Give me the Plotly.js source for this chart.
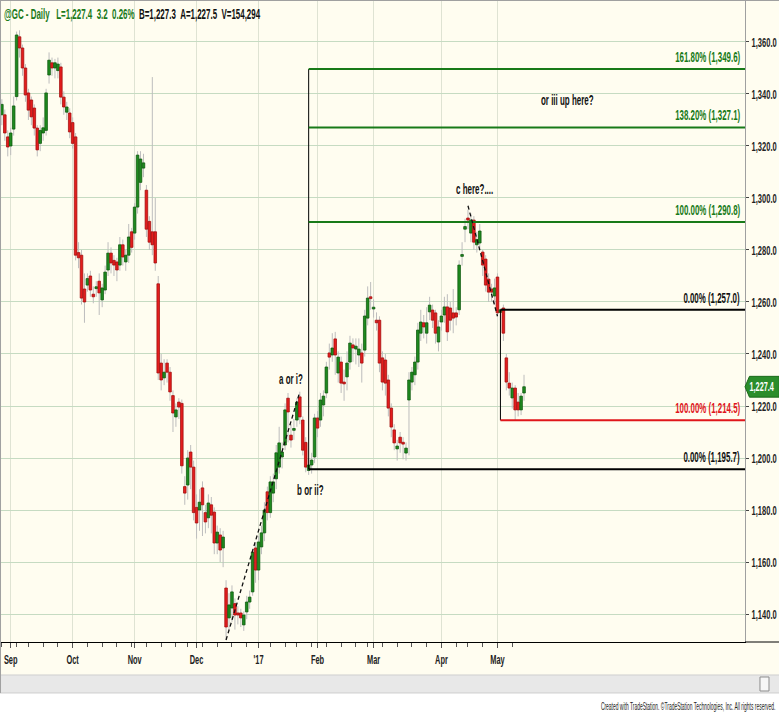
<!DOCTYPE html>
<html>
<head>
<meta charset="utf-8">
<script src="https://cdn.plot.ly/plotly-3.0.1.min.js"></script>
<style>
html,body{margin:0;padding:0;background:#fffdf0;}
#chart{width:779px;height:713px;}
</style>
</head>
<body>
<div id="chart"></div>
<script>
// ---------------- data ----------------
const symbol = '@GC';
const interval = 'Daily';
const lastPrice = 1227.4, netChange = 3.2, pctChange = 0.26;
const bidPrice = 1227.3, askPrice = 1227.5, volume = 154294;

const firstDay = '2016-08-29';
const lastDay = '2017-05-12';
const holidays = ['2016-09-05','2016-11-24','2016-12-26','2017-01-02','2017-01-16','2017-02-20','2017-04-14'];
const monthLabels = ['Sep','Oct','Nov','Dec',"'17",'Feb','Mar','Apr','May'];

const open = [
1332,1332,1323.5,1320,1326.5,1339,1362,1357.7,1350,1340.4,1337.7,1334.6,1326.9,1321,1325,1326,1347.3,1352,1350,1349,1350.4,1338.8,1333,1332.7,
1329,1323.5,1279,1278,1265,1266.5,1270,1263,1265.2,1268,1260.8,1264.6,1272.3,1278.8,1276,1275.4,1274.2,1282,1275.4,1278,1287,
1286.5,1296.5,1306,1311.5,1303,1291,1287,1287,1267,1236.5,1230.8,1236.5,1233,1224,1215.8,1221.5,1221,1189,1189.6,1202.3,1196.5,
1181,1180,1188.5,1179,1177,1182,1179.2,1167.3,1170.4,1165.4,1150,1138.5,1142.3,1144,1140.4,1140.4,1135.8,1140.8,1144.6,1148.5,1165.4,
1156.9,1165.8,1171.2,1187,1179,1186.5,1192,1196.5,1200.4,1205,1223,1208.8,1210.8,1214.6,1223.5,1214.6,1206,1195.2,1197.3,1200.4,
1215.4,1214.6,1220.4,1225,1240.4,1239.6,1245.8,1232.7,1236.9,1229.2,1231.2,1236.9,1243.5,1241.9,1239.6,1240.4,1241.5,1253.8,1262,
1257.3,1253,1253,1238.5,1237.7,1230,1219.2,1210.8,1203.5,1208,1206,1201.9,1222.3,1229.2,1232,1236.9,1248,1252,1248,1256.2,1256.9,1255.8,1244.6,
1252.3,1255,1258.1,1257.7,1255.8,1255.8,1257,1277.7,1288,1292.3,1286.5,1291.5,1282,1282.7,1279.2,1276.5,1268.8,1265,1262.3,
1269.6,1256,1257.7,1238.5,1228.8,1223.1,1226.9,1221.5,1218.5,1225
];
const high = [
1338,1334,1326,1327,1339,1364,1364.5,1359,1351.5,1342,1339,1336,1328,1328,1331,1342,1356,1354,1353.5,1354,1352,1341,1337,1334.5,
1331,1325,1283,1280,1271,1271,1272,1266,1268,1271,1267,1274,1283,1281,1278,1277,1285,1284,1280,1290,1288.5,
1298,1318,1318,1317,1305,1293,1346.5,1300,1270,1240,1238,1238,1235,1226,1221,1223,1222.5,1193,1203,1205,1199,
1186,1188,1191,1182,1186,1185,1181,1174,1173,1172,1153,1148,1151,1146,1143,1142,1141,1147,1149,1165,1167,
1170,1174,1183,1189,1193,1194,1205,1212,1206,1221,1225,1213,1215,1223,1225.5,1216,1208,1200,1202,1217,
1218,1225,1226,1237,1244,1248,1248.5,1241,1239,1234,1241,1247,1246,1246,1246,1244,1257,1266,1267.7,
1261,1256,1254.5,1241,1240,1232,1221,1213,1207,1210,1208,1206,1233,1235,1239,1252,1257,1255,1258,1262,1259,1257,1253,
1257,1262,1263,1260,1265,1258,1276,1283,1292,1295.5,1294,1293,1287,1290,1280,1278,1271,1267,1269,
1271,1257,1259,1240,1233,1229,1228,1225,1225,1232
];
const low = [
1328,1322,1316,1316.5,1324,1337.5,1354,1347,1337,1330,1328,1324,1316,1318,1322,1324,1344,1347,1346,1346,1336,1332,1330,1323,
1319,1276,1273,1259,1252,1264,1262,1259.5,1262,1255,1258,1263,1270,1271,1270,1268,1272,1274,1272,1275,1279,
1284,1294,1303,1308,1285,1280,1278,1272,1230,1226,1228,1229,1222,1210,1212,1215,1194,1182,1184,1188,1176,
1169,1172,1170,1171,1173,1171,1163,1163,1160,1158,1130,1134,1137,1134,1136,1135,1133.5,1138,1142,1147,1152,
1153,1163,1168,1176,1177,1183,1188,1194,1196,1203,1206,1204,1207,1212,1213,1201,1194.5,1193.5,1194,1198,
1208,1212,1216,1223,1234,1237,1232,1229,1225,1222,1226,1234,1237,1236,1235,1229,1239,1251,1257,
1254,1249,1233,1226,1224,1216,1208,1203,1199,1202,1199.5,1199,1201,1226,1228,1234,1245,1246,1244,1253,1250,1244,1241,
1249,1252,1245,1249,1248,1251,1255,1274,1283,1288,1283,1280,1279,1280,1270,1264,1260,1260,1259,
1254.5,1253,1245,1226,1224,1219,1214.5,1216,1216.5,1222
];
const close = [
1336,1325,1319.6,1325,1335.4,1362.7,1357.7,1350,1339.6,1333.8,1331.2,1326.9,1318.5,1326,1327,1340.4,1353,1350,1352,1351.5,1338.8,1335,1335,1325.4,
1321,1278,1277,1261.5,1260,1269,1264.6,1262,1265.8,1263.5,1265.4,1271.5,1278.8,1275,1274.2,1272.3,1282,1277.3,1278,1285,1281,
1296.5,1316.5,1315,1313.5,1288,1283,1282,1275,1232.7,1230,1233,1233,1225.4,1217.3,1218.5,1219.6,1197,1186.5,1200,1196.5,1179,
1175,1183,1182,1175.4,1182.7,1178,1167.3,1171.5,1164.6,1169.6,1135,1143.5,1148.5,1139.6,1139.6,1138.5,1139.6,1144.6,1146.5,1163.8,1156.9,
1167.7,1171.2,1180,1179,1190.8,1190.8,1202,1205.8,1202.3,1218.5,1217.7,1206.9,1211.2,1221.5,1215.8,1203,1196.5,1197.3,1199.2,1215.4,
1211.5,1222.3,1223.8,1235,1238.8,1242.3,1239.6,1238.8,1228.8,1228.5,1236.5,1244.2,1242.3,1243,1241.9,1236.5,1254.6,1261.5,1261.3,
1258,1252,1236.5,1229.2,1228.8,1219.2,1211.9,1205.8,1204.6,1205.8,1205.4,1203.8,1230,1233,1236.9,1249.2,1252.3,1250.4,1252,1258.8,1253,1248,1250.4,
1254.6,1258.1,1248.5,1253,1253.8,1254.2,1274.2,1278.1,1289,1291.5,1291.5,1283,1284,1287.3,1274.2,1266.5,1263.8,1263.8,1265.4,
1255.8,1257,1248,1229.2,1226.9,1226.9,1218.5,1218.5,1223.8,1227.4
];

// Fibonacci tool 1 (extension) and tool 2
const fibRatios = [0, 1, 1.382, 1.618];
const fibLow = 1195.7, fibHigh = 1290.8, fibStart = '2017-01-27';
const fib2High = 1257.0, fib2Low = 1214.5, fib2Start = '2017-05-02';
// hand-drawn trend lines (start/end dates)
const trendA = ['2016-12-15', '2017-01-24'];
const trendC = ['2017-04-17', '2017-05-01'];
const noteTexts = ['or iii up here?', 'c here?....', 'a or i?', 'b or ii?'];
const footerText = 'Created with TradeStation. \u00a9TradeStation Technologies, Inc. All rights reserved.';

// ---------------- helpers ----------------
function tradingDays(a, b, hol) {
  const out = [];
  const d = new Date(a + 'T00:00:00Z');
  const end = new Date(b + 'T00:00:00Z');
  while (d <= end) {
    const w = d.getUTCDay();
    const s = d.toISOString().slice(0, 10);
    if (w !== 0 && w !== 6 && hol.indexOf(s) < 0) out.push(s);
    d.setUTCDate(d.getUTCDate() + 1);
  }
  return out;
}
const fmt = v => v.toLocaleString('en-US', {minimumFractionDigits: 1, maximumFractionDigits: 1});

const dates = tradingDays(firstDay, lastDay, holidays).slice(0, open.length);
const n = dates.length;

const UP = '#1f8a1f', UPE = '#0b560b', DN = '#e31d1d', DNE = '#a00c0c';
const bodyBase = [], bodyLen = [], bodyFill = [], bodyEdge = [];
const wx = [], wy = [];
for (let i = 0; i < n; i++) {
  const lo = Math.min(open[i], close[i]), hi = Math.max(open[i], close[i]);
  const len = Math.max(hi - lo, 0.7);
  bodyBase.push(lo - (len - (hi - lo)) / 2);
  bodyLen.push(len);
  const up = close[i] >= open[i];
  bodyFill.push(up ? UP : DN);
  bodyEdge.push(up ? UPE : DNE);
  wx.push(dates[i], dates[i], dates[i]);
  wy.push(low[i], high[i], null);
}

const monthStarts = [], weekStarts = [];
for (let i = 0; i < n; i++) {
  const d = new Date(dates[i] + 'T00:00:00Z');
  if (i > 0) {
    const p = new Date(dates[i - 1] + 'T00:00:00Z');
    if (d.getUTCMonth() !== p.getUTCMonth()) monthStarts.push(dates[i]);
    if (d.getUTCDay() <= p.getUTCDay()) weekStarts.push(dates[i]);
  } else {
    weekStarts.push(dates[i]);
  }
}

const xr = [-0.63, 251.9];
const yr = [1129.23, 1376.15];
const FONT = 'Liberation Sans, Arial, sans-serif';

// ---------------- traces ----------------
const wicks = {
  type: 'scatter', mode: 'lines', x: wx, y: wy, xaxis: 'x', yaxis: 'y',
  line: {color: '#bdbdbd', width: 1}, hoverinfo: 'skip', showlegend: false, connectgaps: false
};
const bodies = {
  type: 'bar', x: dates, y: bodyLen, base: bodyBase, width: 0.88, xaxis: 'x2', yaxis: 'y',
  marker: {color: bodyFill, line: {color: bodyEdge, width: 0.75}},
  hoverinfo: 'skip', showlegend: false
};

// ---------------- shapes ----------------
const shapes = [];
shapes.push({type: 'rect', xref: 'paper', yref: 'paper', x0: -0.01, x1: 1.06, y0: -0.2, y1: -0.0794,
  fillcolor: '#ffffff', line: {width: 0}, layer: 'above'});
shapes.push({type: 'rect', xref: 'paper', yref: 'paper', x0: -0.01, x1: 1.06, y0: -0.0794, y1: -0.0514,
  fillcolor: '#e8e8e8', line: {color: '#cfcfcf', width: 1}, layer: 'above'});
shapes.push({type: 'rect', xref: 'paper', yref: 'paper', x0: 1.0201, x1: 1.0322, y0: -0.0763, y1: -0.0545,
  fillcolor: '#f6f6f6', line: {color: '#8c8c8c', width: 1}, layer: 'above'});
shapes.push({type: 'line', xref: 'paper', yref: 'paper', x0: 1, x1: 1.06, y0: 0, y1: 0,
  line: {color: '#000', width: 1}, layer: 'above'});
shapes.push({type: 'line', xref: 'paper', yref: 'paper', x0: 0.0007, x1: 0.0007, y0: -0.0794, y1: 1,
  line: {color: '#a0a0a0', width: 1}, layer: 'above'});
shapes.push({type: 'line', xref: 'paper', yref: 'paper', x0: 0, x1: 1.06, y0: 0.9992, y1: 0.9992,
  line: {color: '#a0a0a0', width: 1}, layer: 'above'});

// Fibonacci tool 1
const fibAnchor = dates.indexOf(fibStart);
const fibLevels = fibRatios.map(r => fibLow + r * (fibHigh - fibLow));
const fibTop = Math.max.apply(null, fibLevels);
shapes.push({type: 'line', xref: 'x', yref: 'y', x0: fibAnchor, x1: fibAnchor, y0: fibLow, y1: fibTop,
  line: {color: '#000', width: 1}, layer: 'above'});
const FIBG = '#187a18';
fibLevels.forEach((v, i) => {
  shapes.push({type: 'line', xref: 'x', yref: 'y', x0: fibAnchor, x1: xr[1], y0: v, y1: v,
    line: {color: fibRatios[i] === 0 ? '#000' : FIBG, width: 2}, layer: 'above'});
});
// Fibonacci tool 2
const fib2Anchor = dates.indexOf(fib2Start);
shapes.push({type: 'line', xref: 'x', yref: 'y', x0: fib2Anchor, x1: fib2Anchor, y0: fib2Low, y1: fib2High,
  line: {color: '#000', width: 1}, layer: 'above'});
shapes.push({type: 'line', xref: 'x', yref: 'y', x0: fib2Anchor, x1: xr[1], y0: fib2High, y1: fib2High,
  line: {color: '#000', width: 2}, layer: 'above'});
shapes.push({type: 'line', xref: 'x', yref: 'y', x0: fib2Anchor, x1: xr[1], y0: fib2Low, y1: fib2Low,
  line: {color: '#e0161b', width: 2}, layer: 'above'});

// trend lines
const ta0 = dates.indexOf(trendA[0]), ta1 = dates.indexOf(trendA[1]);
shapes.push({type: 'line', xref: 'x', yref: 'y', x0: ta0, x1: ta1, y0: low[ta0], y1: high[ta1],
  line: {color: '#111', width: 1.3, dash: '4px,3px'}, layer: 'above'});
const tc0 = dates.indexOf(trendC[0]), tc1 = dates.indexOf(trendC[1]);
shapes.push({type: 'line', xref: 'x', yref: 'y', x0: tc0, x1: tc1, y0: high[tc0] + 1.5, y1: low[tc1],
  line: {color: '#111', width: 1.3, dash: '4px,3px'}, layer: 'above'});

// last price tag
const tagH = 4;
shapes.push({type: 'path', xref: 'paper', yref: 'y',
  path: `M 1,${lastPrice} L 1.006,${lastPrice + tagH} L 1.046,${lastPrice + tagH} L 1.046,${lastPrice - tagH} L 1.006,${lastPrice - tagH} Z`,
  fillcolor: '#2b8d2b', line: {color: '#1b6b1b', width: 1}, layer: 'above'});

// ---------------- annotations ----------------
const annotations = [], squeeze = [];
function addAnn(a, f) { annotations.push(a); squeeze.push(f); }
const BOLD = 'bold';

addAnn({xref: 'paper', yref: 'paper', x: 0, y: 1, xanchor: 'left', yanchor: 'top', align: 'left',
  xshift: 2, yshift: -4, showarrow: false, font: {family: FONT, size: 14, color: '#111', weight: BOLD},
  text: `<span style="color:#1b7a1b">${symbol} - ${interval}\u00a0\u00a0\u00a0L=${fmt(lastPrice)}\u00a0\u00a0${netChange.toFixed(1)}\u00a0\u00a0${pctChange.toFixed(2)}%</span>\u00a0\u00a0B=${fmt(bidPrice)}\u00a0\u00a0A=${fmt(askPrice)}\u00a0\u00a0V=${volume.toLocaleString('en-US')}`
}, 0.567);

fibLevels.forEach((v, i) => {
  addAnn({xref: 'paper', yref: 'y', x: 0.996, y: v, xanchor: 'right', yanchor: 'bottom', align: 'right',
    yshift: 2, showarrow: false,
    font: {family: FONT, size: 14, color: fibRatios[i] === 0 ? '#111' : FIBG, weight: BOLD},
    text: `${(fibRatios[i] * 100).toFixed(2)}% (${fmt(v)})`}, 0.565);
});
addAnn({xref: 'paper', yref: 'y', x: 0.996, y: fib2High, xanchor: 'right', yanchor: 'bottom', align: 'right',
  yshift: 2, showarrow: false, font: {family: FONT, size: 14, color: '#111', weight: BOLD},
  text: `0.00% (${fmt(fib2High)})`}, 0.565);
addAnn({xref: 'paper', yref: 'y', x: 0.996, y: fib2Low, xanchor: 'right', yanchor: 'bottom', align: 'right',
  yshift: 2, showarrow: false, font: {family: FONT, size: 14, color: '#e0161b', weight: BOLD},
  text: `100.00% (${fmt(fib2Low)})`}, 0.565);

const notePos = [[191.75, 1337.7], [160.05, 1303.6], [97.85, 1230.4], [104.46, 1187.7]];
noteTexts.forEach((t, i) => {
  addAnn({xref: 'x', yref: 'y', x: notePos[i][0], y: notePos[i][1], xanchor: 'center', yanchor: 'middle',
    align: 'center', showarrow: false, font: {family: FONT, size: 14, color: '#111', weight: BOLD}, text: t}, 0.57);
});

addAnn({xref: 'paper', yref: 'y', x: 1.0228, y: lastPrice, xanchor: 'center', yanchor: 'middle', align: 'center',
  showarrow: false, font: {family: FONT, size: 13, color: '#ffffff', weight: BOLD}, text: fmt(lastPrice)}, 0.56);

addAnn({xref: 'paper', yref: 'paper', x: 1.043, y: -0.0997, xanchor: 'right', yanchor: 'middle', align: 'right',
  showarrow: false, font: {family: FONT, size: 11, color: '#222'}, text: footerText}, 0.45);

// ---------------- layout ----------------
const layout = {
  width: 779, height: 713,
  margin: {l: 0, r: 34, t: 0, b: 71, pad: 0},
  paper_bgcolor: '#fffdf0', plot_bgcolor: '#fffdf0',
  font: {family: FONT, size: 13, color: '#222'},
  showlegend: false, barmode: 'overlay',
  xaxis: {
    type: 'category', categoryorder: 'array', categoryarray: dates, range: xr, fixedrange: true,
    tickmode: 'array', tickvals: monthStarts, ticktext: monthLabels.slice(0, monthStarts.length),
    ticks: 'outside', ticklen: 5, tickcolor: '#555', tickwidth: 1,
    showgrid: true, gridcolor: '#dfe3d3', gridwidth: 1,
    showline: true, linecolor: '#000', linewidth: 1, zeroline: false,
    tickfont: {family: FONT, size: 13, color: '#222', weight: BOLD}
  },
  xaxis2: {
    type: 'category', categoryorder: 'array', categoryarray: dates, range: xr, fixedrange: true,
    overlaying: 'x', anchor: 'y', side: 'bottom',
    tickmode: 'array', tickvals: weekStarts, ticktext: weekStarts.map(() => ''),
    ticks: 'outside', ticklen: 4, tickcolor: '#555', tickwidth: 1,
    showgrid: false, showline: false, zeroline: false, showticklabels: false
  },
  yaxis: {
    side: 'right', range: yr, fixedrange: true,
    tickmode: 'linear', tick0: 1140, dtick: 20, tickformat: ',.1f',
    ticks: 'outside', ticklen: 3, tickcolor: '#444',
    showgrid: true, gridcolor: '#c6dbc2', gridwidth: 1,
    showline: true, linecolor: '#a0a0a0', linewidth: 1, zeroline: false,
    tickfont: {family: FONT, size: 13, color: '#222', weight: BOLD}
  },
  shapes: shapes,
  annotations: annotations
};

function condense(el, f) {
  if (!el || el.getAttribute('data-cond')) return;
  const x = parseFloat(el.getAttribute('x')) || 0;
  const tr = el.getAttribute('transform') || '';
  el.setAttribute('transform', tr + ' translate(' + x + ',0) scale(' + f + ',1) translate(' + (-x) + ',0)');
  el.setAttribute('data-cond', '1');
}

Plotly.newPlot('chart', [wicks, bodies], layout, {displayModeBar: false, staticPlot: true}).then(gd => {
  gd.querySelectorAll('.xtick text').forEach(t => condense(t, 0.57));
  gd.querySelectorAll('.ytick text').forEach(t => condense(t, 0.58));
  gd.querySelectorAll('g.annotation').forEach(g => {
    const idx = parseInt(g.getAttribute('data-index'), 10);
    const f = isNaN(idx) ? 0.56 : squeeze[idx];
    condense(g.querySelector('text.annotation-text'), f);
  });
});
</script>
</body>
</html>
